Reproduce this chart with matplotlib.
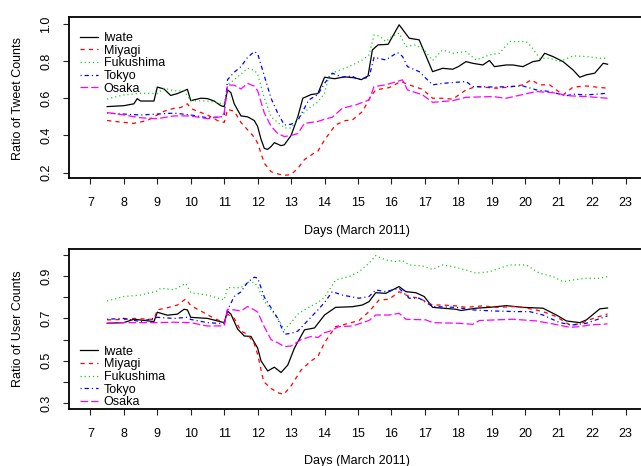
import matplotlib
matplotlib.use('Agg')
import matplotlib.pyplot as plt

# ==============================
# Data (day in March 2011, ratio)
# ==============================

prefectures = ['Iwate', 'Miyagi', 'Fukushima', 'Tokyo', 'Osaka']

# ratio of tweet counts
iwate_tweet = [(7.5,0.555),(8.0,0.56),(8.3,0.57),(8.4,0.598),(8.5,0.585),(8.9,0.585),(9.0,0.66),(9.2,0.65),
    (9.4,0.615),(9.6,0.625),(9.9,0.648),(10.0,0.587),(10.3,0.60),(10.5,0.598),(10.7,0.585),(10.9,0.56),
    (11.0,0.555),(11.1,0.645),(11.2,0.63),(11.3,0.57),(11.5,0.505),(11.7,0.50),(11.9,0.48),(12.0,0.448),
    (12.1,0.38),(12.2,0.33),(12.3,0.325),(12.4,0.34),(12.5,0.361),(12.7,0.345),(12.8,0.35),(13.0,0.40),
    (13.2,0.50),(13.35,0.60),(13.6,0.62),(13.8,0.625),(14.0,0.713),(14.3,0.705),(14.6,0.715),(14.9,0.71),
    (15.1,0.70),(15.3,0.72),(15.43,0.86),(15.6,0.887),(15.9,0.89),(16.23,0.995),(16.53,0.923),(16.83,0.914),
    (17.23,0.743),(17.53,0.761),(17.83,0.756),(18.0,0.77),(18.23,0.797),(18.43,0.788),(18.73,0.779),
    (18.93,0.803),(19.08,0.77),(19.43,0.779),(19.63,0.779),(19.93,0.77),(20.23,0.797),(20.43,0.803),
    (20.58,0.842),(20.83,0.824),(21.13,0.797),(21.43,0.752),(21.63,0.713),(21.83,0.726),(22.08,0.735),
    (22.33,0.788),(22.46,0.783)]
miyagi_tweet = [(7.5,0.48),(8.0,0.47),(8.3,0.465),(8.7,0.48),(9.0,0.51),(9.2,0.53),(9.5,0.546),(9.7,0.55),
    (9.9,0.57),(10.0,0.545),(10.2,0.53),(10.5,0.51),(10.8,0.48),(11.0,0.47),(11.1,0.54),(11.3,0.53),
    (11.5,0.47),(11.7,0.43),(11.9,0.39),(12.0,0.358),(12.2,0.25),(12.4,0.205),(12.6,0.193),(12.8,0.185),
    (13.0,0.19),(13.2,0.223),(13.4,0.27),(13.68,0.304),(13.8,0.315),(14.0,0.376),(14.33,0.457),(14.63,0.48),
    (14.83,0.483),(15.13,0.528),(15.38,0.609),(15.53,0.645),(15.93,0.657),(16.28,0.69),(16.53,0.672),
    (16.93,0.648),(17.23,0.60),(17.53,0.60),(17.83,0.595),(18.23,0.645),(18.53,0.663),(19.13,0.654),
    (19.53,0.66),(19.93,0.672),(20.18,0.699),(20.43,0.672),(20.73,0.672),(21.13,0.618),(21.43,0.66),
    (21.83,0.666),(22.13,0.66),(22.46,0.654)]
fukushima_tweet = [(7.5,0.596),(8.0,0.618),(8.5,0.627),(9.0,0.625),(9.2,0.654),(9.5,0.64),(9.8,0.64),
    (10.0,0.587),(10.5,0.585),(10.8,0.575),(11.0,0.57),(11.1,0.672),(11.3,0.70),(11.5,0.73),(11.7,0.761),
    (11.9,0.75),(12.0,0.73),(12.2,0.60),(12.4,0.50),(12.6,0.47),(12.8,0.44),(13.0,0.44),(13.2,0.49),
    (13.53,0.546),(13.8,0.58),(14.0,0.627),(14.13,0.717),(14.33,0.743),(14.73,0.77),(15.13,0.806),
    (15.33,0.833),(15.48,0.941),(15.63,0.935),(15.83,0.905),(16.03,0.935),(16.23,0.95),(16.43,0.878),
    (16.73,0.887),(16.98,0.86),(17.23,0.803),(17.53,0.86),(17.83,0.842),(18.23,0.851),(18.53,0.806),
    (18.93,0.833),(19.23,0.842),(19.53,0.905),(20.03,0.905),(20.18,0.878),(20.43,0.815),(20.73,0.815),
    (21.03,0.797),(21.43,0.828),(21.83,0.824),(22.23,0.815),(22.46,0.815)]
tokyo_tweet = [(7.5,0.52),(8.0,0.515),(8.5,0.51),(9.0,0.515),(9.5,0.52),(10.0,0.51),(10.5,0.495),(10.9,0.50),
    (11.0,0.51),(11.1,0.70),(11.3,0.74),(11.5,0.77),(11.7,0.82),(11.9,0.851),(12.0,0.84),(12.2,0.72),
    (12.4,0.60),(12.6,0.52),(12.8,0.456),(13.0,0.46),(13.2,0.48),(13.53,0.591),(13.8,0.62),(14.0,0.68),
    (14.23,0.735),(14.53,0.713),(14.83,0.72),(14.98,0.70),(15.33,0.713),(15.48,0.82),(15.83,0.806),
    (16.18,0.846),(16.33,0.825),(16.48,0.77),(16.83,0.743),(17.23,0.672),(17.53,0.68),(18.23,0.69),
    (18.43,0.663),(19.13,0.66),(19.93,0.666),(20.33,0.645),(20.73,0.636),(21.23,0.613),(21.43,0.622),
    (21.83,0.618),(22.13,0.622),(22.46,0.627)]
osaka_tweet = [(7.5,0.523),(8.0,0.51),(8.5,0.495),(9.0,0.49),(9.5,0.505),(10.0,0.505),(10.5,0.49),(10.9,0.50),
    (11.0,0.52),(11.1,0.672),(11.3,0.67),(11.5,0.65),(11.7,0.68),(11.9,0.665),(12.0,0.64),(12.2,0.52),
    (12.4,0.45),(12.6,0.41),(12.8,0.394),(13.0,0.40),(13.2,0.41),(13.4,0.465),(13.8,0.475),(14.0,0.487),
    (14.23,0.498),(14.53,0.546),(14.93,0.564),(15.33,0.591),(15.48,0.663),(15.83,0.672),(16.33,0.699),
    (16.48,0.645),(16.93,0.618),(17.23,0.578),(17.83,0.587),(18.23,0.605),(19.03,0.609),(19.43,0.60),
    (20.33,0.636),(20.83,0.63),(21.33,0.613),(21.83,0.609),(22.46,0.60)]

# ratio of user counts
iwate_user = [(7.5,0.677),(8.0,0.68),(8.3,0.696),(8.9,0.685),(9.0,0.729),(9.3,0.715),(9.6,0.72),(9.8,0.743),
    (9.9,0.74),(10.0,0.705),(10.5,0.70),(11.0,0.68),(11.1,0.735),(11.2,0.72),(11.4,0.65),(11.6,0.617),
    (11.8,0.615),(12.0,0.56),(12.1,0.50),(12.3,0.452),(12.5,0.47),(12.7,0.445),(12.9,0.48),(13.1,0.56),
    (13.4,0.646),(13.7,0.655),(14.0,0.716),(14.33,0.752),(14.83,0.755),(15.13,0.763),(15.33,0.779),
    (15.53,0.821),(15.83,0.818),(16.23,0.85),(16.43,0.826),(16.73,0.821),(16.98,0.803),(17.23,0.752),
    (17.93,0.743),(18.08,0.737),(18.53,0.748),(18.93,0.752),(19.43,0.76),(19.93,0.752),(20.53,0.748),
    (20.93,0.716),(21.23,0.688),(21.63,0.68),(21.83,0.693),(22.23,0.745),(22.46,0.749)]
miyagi_user = [(7.5,0.693),(8.0,0.695),(8.3,0.70),(8.9,0.695),(9.0,0.74),(9.3,0.75),(9.6,0.763),(9.85,0.792),
    (10.0,0.76),(10.3,0.735),(10.7,0.70),(11.0,0.68),(11.1,0.72),(11.3,0.70),(11.5,0.64),(11.7,0.625),
    (11.9,0.58),(12.0,0.53),(12.18,0.402),(12.4,0.37),(12.6,0.35),(12.78,0.342),(13.0,0.382),(13.3,0.457),
    (13.6,0.50),(13.8,0.52),(14.0,0.586),(14.33,0.661),(14.73,0.677),(15.03,0.69),(15.33,0.732),
    (15.63,0.787),(15.93,0.79),(16.23,0.826),(16.53,0.803),(16.83,0.795),(17.23,0.763),(17.53,0.763),
    (17.93,0.759),(18.23,0.752),(18.73,0.759),(19.13,0.752),(19.73,0.756),(20.23,0.743),(20.53,0.732),
    (20.93,0.708),(21.33,0.669),(21.63,0.674),(22.03,0.70),(22.46,0.721)]
fukushima_user = [(7.5,0.782),(8.0,0.803),(8.5,0.81),(9.0,0.829),(9.1,0.842),(9.5,0.835),(9.85,0.865),
    (10.0,0.821),(10.5,0.81),(11.0,0.787),(11.1,0.845),(11.3,0.845),(11.5,0.845),(11.7,0.87),(11.9,0.87),
    (12.0,0.85),(12.2,0.78),(12.4,0.74),(12.6,0.70),(12.8,0.646),(13.0,0.68),(13.2,0.72),(13.5,0.75),
    (13.8,0.775),(14.0,0.80),(14.33,0.881),(14.73,0.897),(15.03,0.92),(15.33,0.96),(15.53,0.996),
    (15.83,0.975),(16.13,0.968),(16.33,0.973),(16.53,0.952),(16.93,0.947),(17.23,0.931),(17.53,0.952),
    (17.83,0.944),(18.23,0.928),(18.53,0.913),(18.93,0.92),(19.53,0.952),(20.03,0.952),(20.43,0.913),
    (20.83,0.897),(21.13,0.873),(21.43,0.881),(21.83,0.889),(22.23,0.889),(22.46,0.897)]
tokyo_user = [(7.5,0.696),(8.0,0.70),(8.5,0.685),(9.0,0.705),(9.5,0.70),(9.9,0.705),(10.0,0.695),(10.5,0.68),
    (11.0,0.675),(11.1,0.74),(11.3,0.803),(11.5,0.825),(11.7,0.87),(11.9,0.894),(12.0,0.89),(12.2,0.80),
    (12.4,0.75),(12.6,0.70),(12.8,0.625),(13.0,0.63),(13.2,0.64),(13.5,0.69),(13.8,0.74),(14.0,0.775),
    (14.23,0.826),(14.53,0.81),(15.03,0.795),(15.33,0.803),(15.53,0.834),(15.83,0.826),(16.23,0.842),
    (16.53,0.795),(16.83,0.795),(17.23,0.756),(17.93,0.752),(18.43,0.74),(19.03,0.735),(19.73,0.732),
    (20.13,0.732),(20.53,0.716),(21.03,0.68),(21.43,0.669),(21.83,0.677),(22.46,0.712)]
osaka_user = [(7.5,0.677),(8.0,0.68),(8.5,0.68),(9.0,0.68),(9.5,0.682),(9.9,0.68),(10.0,0.68),(10.3,0.67),
    (10.5,0.664),(11.0,0.665),(11.1,0.743),(11.3,0.74),(11.5,0.735),(11.7,0.756),(11.9,0.74),(12.0,0.73),
    (12.2,0.66),(12.4,0.60),(12.6,0.585),(12.8,0.567),(13.0,0.57),(13.3,0.60),(13.6,0.615),(13.8,0.61),
    (14.0,0.633),(14.13,0.638),(14.43,0.661),(14.83,0.664),(15.33,0.69),(15.53,0.716),(15.93,0.716),
    (16.23,0.724),(16.43,0.696),(17.03,0.693),(17.23,0.68),(18.03,0.677),(18.43,0.672),(18.63,0.69),
    (19.13,0.693),(19.63,0.696),(20.33,0.688),(20.83,0.674),(21.33,0.658),(21.63,0.661),(21.93,0.669),
    (22.46,0.674)]

day_ticks = list(range(7, 24))
tweet_yticks = [0.2, 0.4, 0.6, 0.8, 1.0]
user_yticks = [0.3, 0.4, 0.5, 0.6, 0.7, 0.8, 0.9, 1.0]
user_ylabels = ['0.3', '', '0.5', '', '0.7', '', '0.9', '']

# ==============================
# Styles (R lty 1..5)
# ==============================

plt.rcParams['font.family'] = 'Liberation Sans'
plt.rcParams['font.size'] = 9
plt.rcParams['lines.scale_dashes'] = False

colors = ['black', '#ff0000', '#00cd00', '#0000ff', '#ff00ff']
dashes = [None, (3, 3), (0.8, 2.2), (0.8, 2.2, 3, 2.2), (5.5, 2.2)]


def draw_panel(ax, series, yticks, ylabels, ylim, legend_anchor, legend_loc):
    for name, pts, c, d in zip(prefectures, series, colors, dashes):
        xs = [p[0] for p in pts]
        ys = [p[1] for p in pts]
        line, = ax.plot(xs, ys, color=c, lw=0.9, label=name)
        if d is not None:
            line.set_dashes(d)
    ax.set_xlim(6.36, 23.64)
    ax.set_ylim(*ylim)
    ax.set_xticks(day_ticks)
    ax.set_yticks(yticks)
    ax.set_yticklabels(ylabels, rotation=90, va='center')
    ax.tick_params(axis='both', direction='out', length=4, width=0.8, color='#222222')
    ax.tick_params(axis='x', pad=9.5)
    ax.tick_params(axis='y', pad=8)
    for s in ax.spines.values():
        s.set_linewidth(1.3)
    ax.legend(loc=legend_loc, bbox_to_anchor=legend_anchor, frameon=False, borderpad=0,
              borderaxespad=0, handlelength=1.45, handletextpad=0.45, labelspacing=0.05)


fig = plt.figure(figsize=(6.41, 4.66), dpi=100)
ax1 = fig.add_axes([69 / 641, 1 - 178 / 466, 578 / 641, 161 / 466])
ax2 = fig.add_axes([69 / 641, 1 - 409 / 466, 578 / 641, 160 / 466])

draw_panel(ax1, [iwate_tweet, miyagi_tweet, fukushima_tweet, tokyo_tweet, osaka_tweet],
           tweet_yticks, [f'{v:.1f}' for v in tweet_yticks], (0.171, 1.037), (0.019, 0.906), 'upper left')
draw_panel(ax2, [iwate_user, miyagi_user, fukushima_user, tokyo_user, osaka_user],
           user_yticks, user_ylabels, (0.273, 1.027), (0.019, 0.005), 'lower left')

fig.text(18 / 641, 1 - 98 / 466, 'Ratio of Tweet Counts', rotation=90, ha='center', va='center')
fig.text(18 / 641, 1 - 329 / 466, 'Ratio of User Counts', rotation=90, ha='center', va='center')
fig.text(357 / 641, 1 - 231 / 466, 'Days (March 2011)', ha='center', va='center')
fig.text(357 / 641, 1 - 461 / 466, 'Days (March 2011)', ha='center', va='center')

fig.savefig('out.png', dpi=100)
